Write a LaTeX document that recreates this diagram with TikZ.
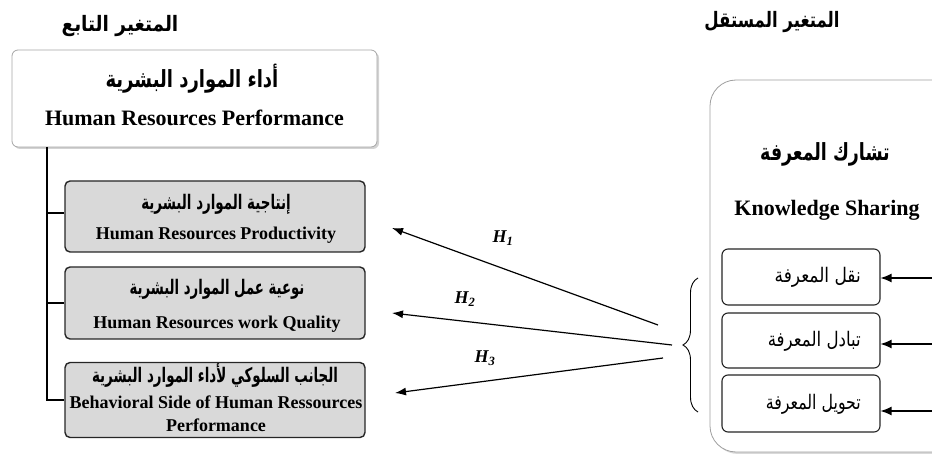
\documentclass[tikz,border=0pt]{standalone}
\usepackage{fontspec}
\usepackage{graphicx}
\setmainfont{Liberation Serif}
\newfontfamily\arabicfont[Script=Arabic]{DejaVu Sans}
\TeXXeTstate=1
\newcommand\arx[2]{\scalebox{#1}[1.18]{#2}}
\usetikzlibrary{arrows.meta,shadows,decorations.pathreplacing}
\tikzset{
  mainbox/.style={draw=gray!70, fill=white, rounded corners=6pt, line width=0.8pt,
    drop shadow={shadow xshift=2pt, shadow yshift=-2pt, opacity=0.35}},
  subbox/.style={draw=black!85, fill=gray!30, rounded corners=5pt, line width=1.4pt},
  bigbox/.style={draw=gray!75, fill=white, rounded corners=26pt, line width=0.8pt,
    drop shadow={shadow xshift=2pt, shadow yshift=-2pt, opacity=0.3}},
  dimbox/.style={draw=black!85, fill=white, rounded corners=6pt, line width=1.1pt},
  arlab/.style={font=\arabicfont\bfseries\fontsize{17}{20}\selectfont, inner sep=0pt},
  enlab/.style={font=\bfseries\fontsize{18}{21}\selectfont, inner sep=0pt},
  dimlab/.style={font=\arabicfont\fontsize{17}{20}\selectfont, inner sep=0pt, anchor=east},
  hyp/.style={-{Latex[length=11pt,width=8pt]}, line width=1.2pt},
  inarrow/.style={-{Latex[length=11pt,width=9pt]}, line width=1.2pt},
  hlab/.style={font=\bfseries\itshape\fontsize{18}{20}\selectfont, inner sep=0pt},
  spine/.style={line width=2.6pt}
}
\begin{document}
\begin{tikzpicture}[x=1pt,y=-1pt]
\useasboundingbox (0,0) rectangle (932,454);
% headings
\node[font=\arabicfont\bfseries\fontsize{18}{20}\selectfont, inner sep=0pt] (depT) at (120,26) {\arx{1.03}{\beginR المتغير التابع\endR}};
\node[font=\arabicfont\bfseries\fontsize{18}{20}\selectfont, inner sep=0pt] (indT) at (772,22) {\arx{0.92}{\beginR المتغير المستقل\endR}};
% dependent variable box
\node[mainbox, minimum width=365pt, minimum height=97pt] (hrp) at (194.5,98.5) {};
\node[font=\arabicfont\bfseries\fontsize{20}{22}\selectfont, inner sep=0pt] (hrpA) at (192,79) {\arx{0.9}{\beginR أداء الموارد البشرية\endR}};
\node[font=\bfseries\fontsize{22}{24}\selectfont, inner sep=0pt] (hrpE) at (194.5,118) {Human Resources Performance};
% spine
\coordinate (sTop) at (47,147);
\coordinate (s1) at (47,213);
\coordinate (s2) at (47,303);
\coordinate (s3) at (47,400);
% sub boxes
\node[subbox, minimum width=300pt, minimum height=71pt] (b1) at (215,216.5) {};
\node[subbox, minimum width=300pt, minimum height=72pt] (b2) at (215,303) {};
\node[subbox, minimum width=300pt, minimum height=75pt] (b3) at (215,400) {};
\node[arlab] (b1A) at (216,204) {\arx{0.79}{\beginR إنتاجية الموارد البشرية\endR}};
\node[enlab] (b1E) at (216,235) {Human Resources Productivity};
\node[arlab] (b2A) at (217,289) {\arx{0.78}{\beginR نوعية عمل الموارد البشرية\endR}};
\node[enlab] (b2E) at (217,324) {Human Resources work Quality};
\node[arlab] (b3A) at (215,375) {\arx{0.79}{\beginR الجانب السلوكي لأداء الموارد البشرية\endR}};
\node[enlab] (b3E) at (216,402) {Behavioral Side of Human Ressources};
\node[enlab] (b3F) at (216,425) {Performance};
\draw[spine] (sTop) -- (s3) -- (b3.west |- s3);
\draw[spine] (s1) -- (b1.west |- s1);
\draw[spine] (s2) -- (b2.west |- s2);
% independent variable box
\node[bigbox, minimum width=250pt, minimum height=372pt] (ks) at (835,266) {};
\node[font=\arabicfont\bfseries\fontsize{20}{22}\selectfont, inner sep=0pt] (ksA) at (825,154) {\arx{0.87}{\beginR تشارك المعرفة\endR}};
\node[font=\bfseries\fontsize{22}{24}\selectfont, inner sep=0pt] (ksE) at (827,210) {Knowledge Sharing};
\node[dimbox, minimum width=158pt, minimum height=56pt] (d1) at (801,277) {};
\node[dimbox, minimum width=158pt, minimum height=55pt] (d2) at (801,340.5) {};
\node[dimbox, minimum width=158pt, minimum height=57pt] (d3) at (801,403.5) {};
\node[dimlab] (d1t) at (861,277) {\arx{1.0}{\beginR نقل المعرفة\endR}};
\node[dimlab] (d2t) at (861,341) {\arx{0.98}{\beginR تبادل المعرفة\endR}};
\node[dimlab] (d3t) at (861,404) {\arx{0.93}{\beginR تحويل المعرفة\endR}};
\coordinate (e1) at (932,278);
\coordinate (e2) at (932,344);
\coordinate (e3) at (932,411);
\draw[inarrow] (e1) -- (d1.east |- e1);
\draw[inarrow] (e2) -- (d2.east |- e2);
\draw[inarrow] (e3) -- (d3.east |- e3);
% brace
\coordinate (brB) at (698,412);
\coordinate (brT) at (698,278);
\draw[line width=0.9pt, decorate, decoration={brace, amplitude=15pt}] (brB) -- (brT);
% hypotheses
\coordinate (h1s) at (658,325);
\coordinate (h2s) at (672,345);
\coordinate (h3s) at (663,358);
\coordinate (h1e) at (392,228);
\coordinate (h2e) at (392,313);
\coordinate (h3e) at (395,393);
\draw[hyp] (h1s) -- (h1e);
\draw[hyp] (h2s) -- (h2e);
\draw[hyp] (h3s) -- (h3e);
\node[hlab] (H1) at (503,238) {H\textsubscript{1}};
\node[hlab] (H2) at (465,299) {H\textsubscript{2}};
\node[hlab] (H3) at (485,358) {H\textsubscript{3}};
\end{tikzpicture}
\end{document}
